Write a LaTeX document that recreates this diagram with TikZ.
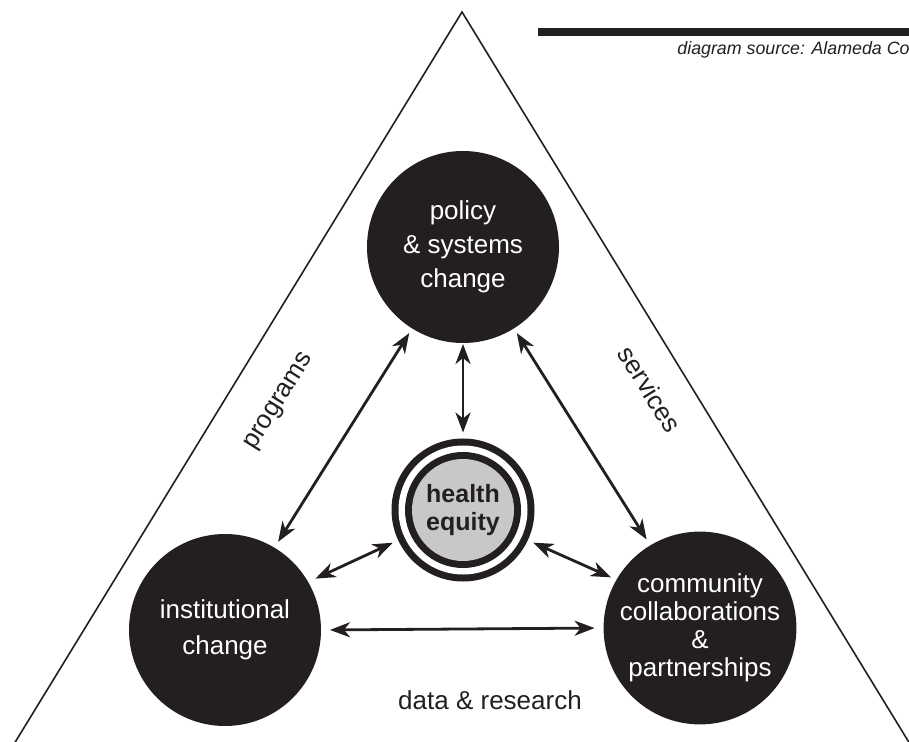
\documentclass[tikz,border=0pt]{standalone}
\usepackage{fontspec}
\setmainfont{Liberation Sans}
\usetikzlibrary{arrows.meta}
\definecolor{encre}{RGB}{35,31,32}
\definecolor{grisclair}{RGB}{200,200,202}
\begin{document}
\begin{tikzpicture}[x=0.5pt,y=-0.5pt]
	% définition des styles
	\tikzstyle{pole}=[circle,fill=encre,text=white,minimum size=96pt,inner sep=0pt,outer sep=0pt,align=center,font=\fontsize{13pt}{17pt}\selectfont]
	\tikzstyle{centre}=[circle,fill=encre,text=encre,minimum size=71.5pt,inner sep=0pt,outer sep=0pt,align=center,font=\bfseries\fontsize{12.5pt}{14pt}\selectfont,
		path picture={
			\fill[white] (path picture bounding box.center) circle (32.25pt);
			\fill[encre] (path picture bounding box.center) circle (29pt);
			\fill[grisclair] (path picture bounding box.center) circle (25.5pt);}]
	\tikzstyle{lien}=[<->,>={Stealth[length=10pt,width=7.5pt,inset=3pt]},line width=1.4pt,draw=encre]
	\tikzstyle{cote}=[line width=0.8pt,draw=encre]
	\tikzstyle{etiquette}=[text=encre,font=\fontsize{13pt}{16pt}\selectfont]
	\useasboundingbox (0,0) rectangle (909,742);
	\clip (0,0) rectangle (909,742);
	% le triangle
	\coordinate (sommet) at (462,12);
	\coordinate (basegauche) at (-8,780);
	\coordinate (basedroite) at (932,780);
	\draw[cote] (basegauche) -- (sommet) -- (basedroite);
	% la source
	\fill[encre] (538,28) rectangle (915,36);
	\node[etiquette,anchor=base west,inner sep=0pt,font=\itshape\fontsize{8.9pt}{11pt}\selectfont] (source) at (677,55) {diagram source: Alameda Co};
	% les nœuds
	\node[pole] (policy) at (463,247) {policy\\\& systems\\change};
	\node[pole,font=\fontsize{13pt}{18pt}\selectfont] (inst) at (225,630) {institutional\\change};
	\node[pole,font=\fontsize{13pt}{14pt}\selectfont] (comm) at (700,628) {community\\collaborations\\\&\\partnerships};
	\node[centre] (health) at (463,510) {health\\equity};
	% les flèches
	\draw[lien,shorten <=0.5pt,shorten >=3pt] (policy.270) -- (health.90);
	\draw[lien,shorten <=2.75pt,shorten >=3.5pt] (policy.238) -- (inst.59);
	\draw[lien,shorten <=2.75pt,shorten >=3.5pt] (policy.302) -- (comm.121);
	\draw[lien,shorten <=3pt,shorten >=4pt] (health.205) -- (inst.30);
	\draw[lien,shorten <=3pt,shorten >=3pt] (health.335) -- (comm.150);
	\draw[lien,shorten <=4.5pt,shorten >=4.5pt] (inst.0) -- (comm.180);
	% les côtés
	\node[etiquette,rotate=58] (programs) at (280,402) {programs};
	\node[etiquette,rotate=-58] (services) at (650,389) {services};
	\node[etiquette] (data) at (490,700) {data \& research};
\end{tikzpicture}
\end{document}
